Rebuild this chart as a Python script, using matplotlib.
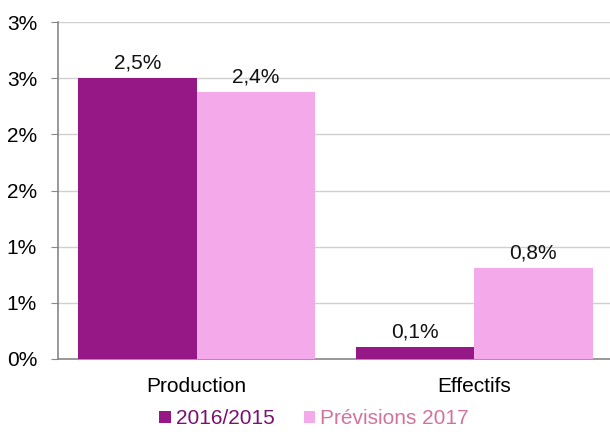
import matplotlib.pyplot as plt
import numpy as np

plt.rcParams['font.family'] = ['Liberation Sans', 'DejaVu Sans']

categories = ['Production', 'Effectifs']
series_names = ['2016/2015', 'Prévisions 2017']
values_2016 = [2.5, 0.11]
values_2017 = [2.38, 0.81]
labels_2016 = ['2,5%', '0,1%']
labels_2017 = ['2,4%', '0,8%']
yticks = [0, 0.5, 1.0, 1.5, 2.0, 2.5, 3.0]
ytick_labels = ['0%', '1%', '1%', '2%', '2%', '3%', '3%']

c_dark = '#961786'
c_light = '#F4A9EA'
fs = 15

fig = plt.figure(figsize=(6.1, 4.32), dpi=100)
ax = fig.add_axes([0.095, 0.169, 0.91, 0.78])

x = np.arange(len(categories))
w = 0.426
b1 = ax.bar(x - w / 2, values_2016, w, color=c_dark, zorder=3, label=series_names[0])
b2 = ax.bar(x + w / 2, values_2017, w, color=c_light, zorder=3, label=series_names[1])

for bars, labs in [(b1, labels_2016), (b2, labels_2017)]:
    for r, lab in zip(bars, labs):
        ax.annotate(lab, (r.get_x() + r.get_width() / 2, r.get_height()),
                    xytext=(0, 4), textcoords='offset points',
                    ha='center', va='bottom', fontsize=fs, color='#111111')

ax.set_xlim(-0.5, 1.5)
ax.set_ylim(0, 3.0)
ax.set_yticks(yticks)
ax.set_yticklabels(ytick_labels, fontsize=fs)
ax.set_xticks(x)
ax.set_xticklabels(categories, fontsize=fs)
ax.tick_params(axis='x', length=0, pad=13)
ax.tick_params(axis='y', length=5, color='#888888', pad=10)
ax.yaxis.grid(True, color='#d0d0d0', linewidth=1, zorder=0)
for s in ['top', 'right']:
    ax.spines[s].set_visible(False)
ax.spines['left'].set_color('#888888')
ax.spines['bottom'].set_color('#888888')
ax.spines['left'].set_linewidth(1.2)
ax.spines['bottom'].set_linewidth(1.2)

leg = fig.legend(handles=[b1, b2], loc='lower center', bbox_to_anchor=(0.515, -0.035),
                 ncol=2, frameon=False, fontsize=fs, handlelength=0.55,
                 handleheight=0.55, handletextpad=0.25, columnspacing=1.4)
leg.get_texts()[0].set_color('#7a1070')
leg.get_texts()[1].set_color('#d2739e')

fig.savefig('out.png', dpi=100)
